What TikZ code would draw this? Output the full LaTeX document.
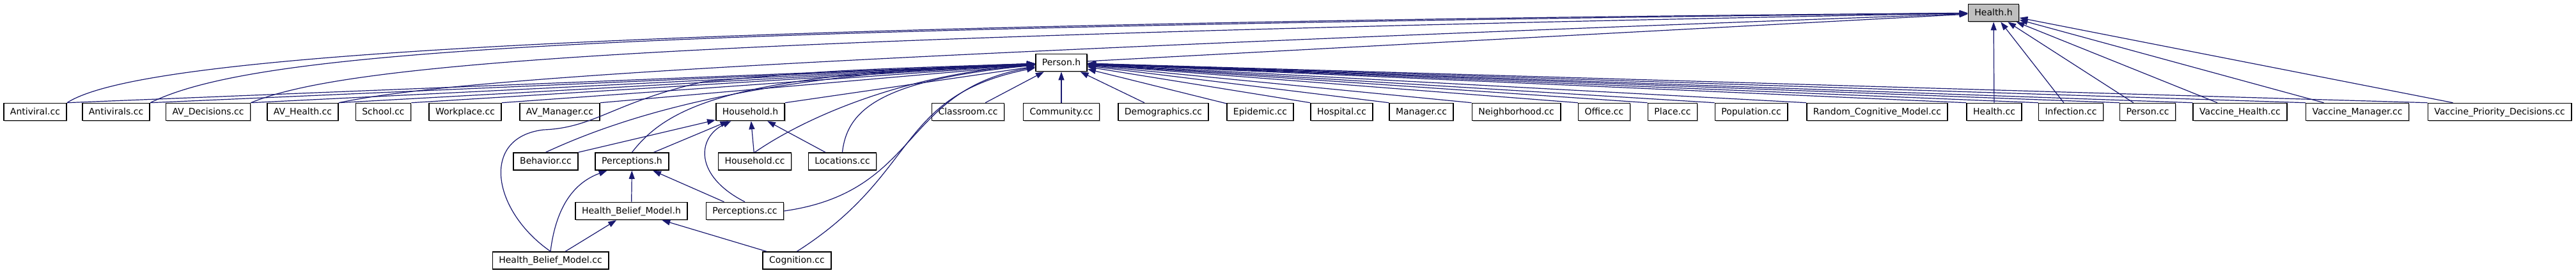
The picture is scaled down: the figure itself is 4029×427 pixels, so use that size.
\documentclass[tikz,border=0pt]{standalone}
\usepackage{fontspec}
\setmainfont{DejaVu Sans}
\usetikzlibrary{arrows.meta,shadows}
\definecolor{incblue}{RGB}{25,25,112}
\definecolor{selgray}{RGB}{191,191,191}

\begin{document}
\begin{tikzpicture}[x=1pt, y=-1pt, every node/.style={font=\fontsize{14}{16}\selectfont},
	f/.style={draw, line width=1.6pt, fill=white, minimum height=27pt, inner xsep=10pt, inner ysep=0pt, text height=11pt, text depth=2pt, drop shadow={shadow xshift=1.3pt, shadow yshift=-1.3pt, fill=black!30, opacity=1}},
	e/.style={incblue, line width=1.2pt, -{Triangle[length=13pt, width=9pt]}}]
	\useasboundingbox (0,0) rectangle (4029,427);
	% top
	\node[f, fill=selgray] (hh) at (3118,20) {Health.h};
	\node[f] (ph) at (1660,98) {Person.h};
	% second row
	\node[f] (avl) at (55,175) {Antiviral.cc}; \node[f] (avs) at (181.5,175) {Antivirals.cc}; \node[f] (avd) at (325.5,175) {AV\_Decisions.cc}; \node[f] (avh) at (473.5,175) {AV\_Health.cc};
	\node[f] (sch) at (599.5,175) {School.cc}; \node[f] (wrk) at (727.5,175) {Workplace.cc}; \node[f] (avm) at (875.5,175) {AV\_Manager.cc}; \node[f] (hhh) at (1173.5,175) {Household.h};
	\node[f] (cls) at (1514,175) {Classroom.cc}; \node[f] (com) at (1660,175) {Community.cc}; \node[f] (dem) at (1819.5,175) {Demographics.cc}; \node[f] (epi) at (1971,175) {Epidemic.cc};
	\node[f] (hos) at (2098.5,175) {Hospital.cc}; \node[f] (mgr) at (2223,175) {Manager.cc}; \node[f] (nbh) at (2371.5,175) {Neighborhood.cc}; \node[f] (off) at (2509,175) {Office.cc};
	\node[f] (plc) at (2616,175) {Place.cc}; \node[f] (pop) at (2739,175) {Population.cc}; \node[f] (rcm) at (2936,175) {Random\_Cognitive\_Model.cc}; \node[f] (hcc) at (3119,175) {Health.cc};
	\node[f] (inf) at (3239,175) {Infection.cc}; \node[f] (pcc) at (3359,175) {Person.cc}; \node[f] (vhc) at (3503.5,175) {Vaccine\_Health.cc}; \node[f] (vmc) at (3687,175) {Vaccine\_Manager.cc};
	\node[f] (vpd) at (3909.5,175) {Vaccine\_Priority\_Decisions.cc};
	% lower rows
	\node[f] (beh) at (853.5,252.5) {Behavior.cc}; \node[f] (prh) at (988.5,252.5) {Perceptions.h}; \node[f] (hcd) at (1180.5,252.5) {Household.cc}; \node[f] (loc) at (1317.5,252.5) {Locations.cc};
	\node[f] (hbh) at (987.5,330) {Health\_Belief\_Model.h}; \node[f] (prc) at (1165,330) {Perceptions.cc};
	\node[f] (hbc) at (861,407.5) {Health\_Belief\_Model.cc}; \node[f] (cog) at (1246.5,407.5) {Cognition.cc};
	% into Health.h
	\draw[e] (avl.north east) .. controls (200,100) and (700,40) .. (hh);
	\draw[e] (avs.north east) .. controls (400,80) and (900,45) .. (hh);
	\draw[e] (avd.north east) .. controls (540,100) and (1000,60) .. (hh);
	\draw[e] (avh.north east) .. controls (700,125) and (1200,90) .. (hh);
	\draw[e] (ph) -- (hh);
	\foreach \a in {hcc,inf,pcc,vhc,vmc,vpd} {\draw[e] (\a) -- (hh);}
	% into Person.h
	\foreach \a in {avl,avs,avd,avh,sch,wrk,avm,hhh} {\draw[e] (\a.north east) -- (ph);}
	\foreach \a in {cls,com,dem,epi} {\draw[e] (\a) -- (ph);}
	\foreach \a in {hos,mgr,nbh,off,plc,pop,rcm,hcc,inf,pcc,vhc,vmc,vpd} {\draw[e] (\a.north west) -- (ph);}
	\draw[e] (beh.north) .. controls (990,175) and (1200,115) .. (ph);
	\draw[e] (prh.north) .. controls (1045,165) and (1150,115) .. (ph);
	\draw[e] (hbc.north) .. controls (770,330) and (750,215) .. (850,203) .. controls (930,200) and (960,160) .. (1100,128) .. controls (1300,110) .. (ph);
	\draw[e] (hcd.north) .. controls (1250,190) and (1400,118) .. (ph);
	\draw[e] (loc.north) .. controls (1325,170) and (1380,125) .. (ph);
	\draw[e] (prc.east) .. controls (1440,300) and (1410,140) .. (ph);
	\draw[e] (cog.north) .. controls (1440,270) and (1400,150) .. (ph);
	% into Household.h
	\foreach \a in {beh.north east, prh, hcd, loc} {\draw[e] (\a) -- (hhh);}
	\draw[e] (prc.north) .. controls (1085,275) and (1090,215) .. (hhh);
	% into Perceptions.h and Health_Belief_Model.h
	\draw[e] (hbc.north) .. controls (870,320) and (900,285) .. (prh);
	\draw[e] (hbh) -- (prh);
	\draw[e] (prc) -- (prh);
	\draw[e] (hbc) -- (hbh);
	\draw[e] (cog) -- (hbh);
\end{tikzpicture}
\end{document}
